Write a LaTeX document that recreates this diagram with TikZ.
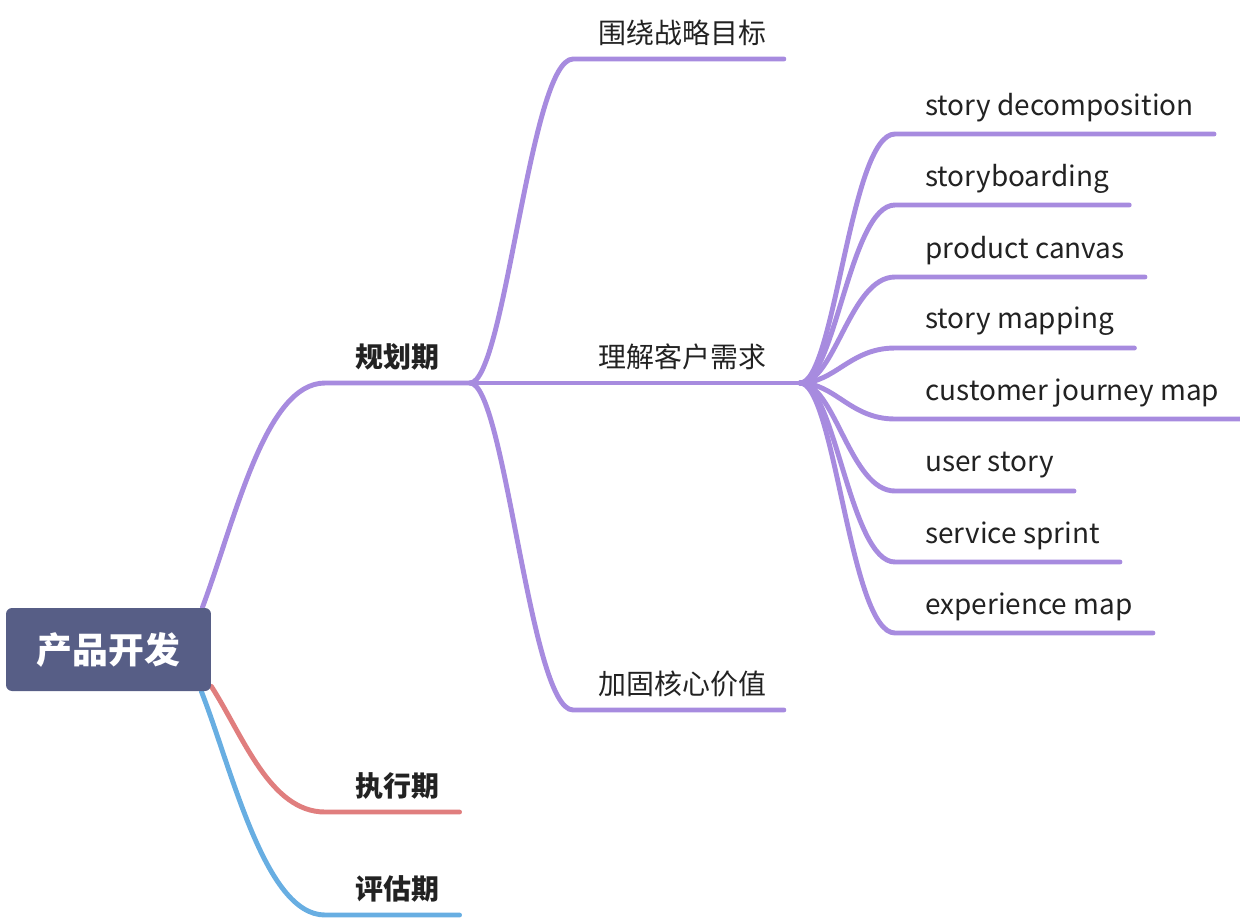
\documentclass[tikz,border=0pt]{standalone}
\usepackage{fontspec}
\setmainfont{Noto Sans CJK SC}
\usetikzlibrary{backgrounds}

\definecolor{rootfill}{HTML}{575E86}
\definecolor{brpurple}{HTML}{A78BDF}
\definecolor{brred}{HTML}{E07E7E}
\definecolor{brblue}{HTML}{68AEE2}
\definecolor{txtgray}{HTML}{222222}

\tikzset{
  branch/.style={line width=2.8pt, line cap=round},
  lbl/.style={anchor=south west, inner sep=0pt, minimum height=1.04cm,
    text=txtgray, font=\fontsize{15.9}{19}\selectfont},
  phase/.style={lbl, font=\fontsize{15.9}{19}\selectfont\bfseries},
  rootbox/.style={fill=rootfill, rounded corners=.12cm, minimum width=4.1cm,
    minimum height=1.66cm, text=white, font=\fontsize{20.4}{24}\selectfont\bfseries},
}

\begin{document}
\begin{tikzpicture}[x=.02cm, y=-.02cm]
\useasboundingbox (0,0) rectangle (1240,920);

% Racine
\node[rootbox] (root) at (108.5,649.5) {产品开发};

% Phases
\node[phase] (gh) at (355,383) {规划期};
\node[phase] (zx) at (355,812) {执行期};
\node[phase] (pg) at (355,915) {评估期};
\coordinate (fork) at (470,383);

% Niveau 2
\node[lbl] (wr) at (598,59) {围绕战略目标};
\node[lbl] (lj) at (598,383) {理解客户需求};
\node[lbl] (jg) at (598,710) {加固核心价值};
\coordinate (hub) at (800,383);

% Niveau 3
\node[lbl] (sd) at (925,134) {story decomposition};
\node[lbl] (sb) at (925,205) {storyboarding};
\node[lbl] (pc) at (925,277) {product canvas};
\node[lbl] (sm) at (925,348) {story mapping};
\node[lbl] (cj) at (925,419) {customer journey map};
\node[lbl] (us) at (925,491) {user story};
\node[lbl] (ss) at (925,562) {service sprint};
\node[lbl] (em) at (925,633) {experience map};

\begin{pgfonlayer}{background}
% Relations racine
\draw[branch, brpurple] ([xshift=-.18cm]root.north east) .. controls +(33,-88) and +(-60,0) .. ([xshift=-.6cm]gh.south west) -- (fork);
\draw[branch, brred] ([yshift=.1cm]root.south east) .. controls +(32,50) and +(-55,0) .. ([xshift=-.6cm]zx.south west) -- ([xshift=.4cm]zx.south east);
\draw[branch, brblue] ([xshift=-.2cm]root.south east) .. controls +(31,79) and +(-60,0) .. ([xshift=-.6cm]pg.south west) -- ([xshift=.4cm]pg.south east);

% Relations niveau 2
\draw[branch, brpurple] (fork) .. controls +(35,0) and +(-43,0) .. ([xshift=-.5cm]wr.south west) -- ([xshift=.35cm]wr.south east);
\draw[branch, brpurple] (fork) -- (lj.south west) -- (hub);
\draw[branch, brpurple] (fork) .. controls +(35,0) and +(-43,0) .. ([xshift=-.5cm]jg.south west) -- ([xshift=.35cm]jg.south east);

% Relations niveau 3
\draw[branch, brpurple] (hub) .. controls +(35,0) and +(-45,0) .. ([xshift=-.6cm]sd.south west) -- ([xshift=.4cm]sd.south east);
\draw[branch, brpurple] (hub) .. controls +(35,0) and +(-45,0) .. ([xshift=-.6cm]sb.south west) -- ([xshift=.4cm]sb.south east);
\draw[branch, brpurple] (hub) .. controls +(35,0) and +(-45,0) .. ([xshift=-.6cm]pc.south west) -- ([xshift=.4cm]pc.south east);
\draw[branch, brpurple] (hub) .. controls +(35,0) and +(-45,0) .. ([xshift=-.6cm]sm.south west) -- ([xshift=.4cm]sm.south east);
\draw[branch, brpurple] (hub) .. controls +(35,0) and +(-45,0) .. ([xshift=-.6cm]cj.south west) -- ([xshift=.4cm]cj.south east);
\draw[branch, brpurple] (hub) .. controls +(35,0) and +(-45,0) .. ([xshift=-.6cm]us.south west) -- ([xshift=.4cm]us.south east);
\draw[branch, brpurple] (hub) .. controls +(35,0) and +(-45,0) .. ([xshift=-.6cm]ss.south west) -- ([xshift=.4cm]ss.south east);
\draw[branch, brpurple] (hub) .. controls +(35,0) and +(-45,0) .. ([xshift=-.6cm]em.south west) -- ([xshift=.4cm]em.south east);
\end{pgfonlayer}

\end{tikzpicture}
\end{document}
